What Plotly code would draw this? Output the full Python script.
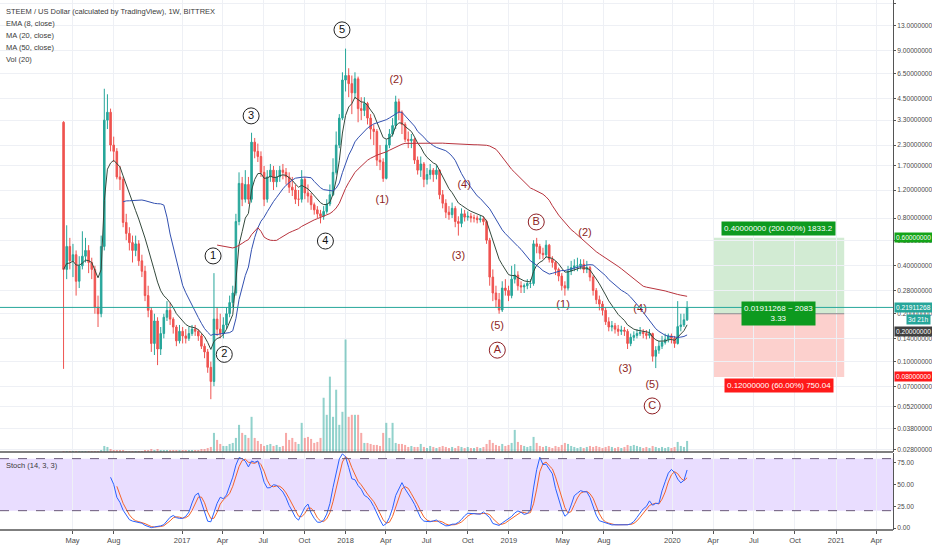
import numpy as np
import pandas as pd
import plotly.graph_objects as go

# weekly STEEM/USD candles (Bittrex)
start = "2016-04-11"
first_open = 3.2
closes = [
    0.38, 0.53, 0.43, 0.47, 0.32, 0.40, 0.46, 0.50, 0.42, 0.38,
    0.22, 0.20, 0.53, 3.3, 3.7, 2.3, 2.1, 1.45, 1.40, 0.75,
    0.64, 0.56, 0.50, 0.55, 0.43, 0.37, 0.26, 0.21, 0.13, 0.18,
    0.12, 0.15, 0.19, 0.21, 0.185, 0.165, 0.135, 0.155, 0.145, 0.14,
    0.15, 0.16, 0.155, 0.145, 0.125, 0.115, 0.092, 0.075, 0.185, 0.16,
    0.15, 0.17, 0.20, 0.235, 0.27, 0.76, 1.32, 1.05, 1.30, 1.05,
    2.4, 2.1, 1.95, 1.55, 1.05, 1.45, 1.6, 1.35, 1.45, 1.6,
    1.55, 1.45, 1.25, 1.2, 1.05, 1.05, 1.4, 1.15, 1.1, 0.97,
    0.9, 0.85, 0.82, 0.88, 0.98, 1.12, 1.55, 2.3, 3.4, 5.9,
    6.3, 5.6, 4.9, 6.0, 3.9, 3.8, 4.2, 3.4, 2.9, 2.8,
    1.85, 1.8, 1.42, 2.3, 2.7, 3.05, 4.3, 3.7, 3.1, 2.5,
    2.45, 2.5, 1.85, 1.6, 1.75, 1.4, 1.5, 1.6, 1.5, 1.6,
    1.12, 0.99, 0.87, 0.84, 0.92, 0.76, 0.74, 0.85, 0.81, 0.82,
    0.80, 0.80, 0.78, 0.79, 0.76, 0.58, 0.34, 0.27, 0.245, 0.211,
    0.29, 0.28, 0.26, 0.33, 0.35, 0.30, 0.295, 0.30, 0.31, 0.31,
    0.55, 0.53, 0.48, 0.47, 0.54, 0.44, 0.42, 0.38, 0.345, 0.30,
    0.29, 0.37, 0.39, 0.40, 0.40, 0.41, 0.38, 0.39, 0.34, 0.28,
    0.245, 0.23, 0.21, 0.178, 0.165, 0.168, 0.16, 0.155, 0.158, 0.155,
    0.13, 0.142, 0.146, 0.15, 0.153, 0.150, 0.146, 0.15, 0.108, 0.118,
    0.125, 0.132, 0.138, 0.145, 0.14, 0.13, 0.166, 0.17, 0.183, 0.21911268,
]
highs = [
    3.25, 0.72, 0.6, 0.55, 0.5, 0.46, 0.66, 0.6, 0.54, 0.45,
    0.40, 0.26, 0.62, 5.2, 4.8, 3.9, 2.6, 2.2, 1.7, 1.45,
    0.85, 0.7, 0.62, 0.62, 0.58, 0.47, 0.40, 0.30, 0.22, 0.20,
    0.19, 0.165, 0.20, 0.24, 0.235, 0.19, 0.17, 0.17, 0.165, 0.16,
    0.165, 0.17, 0.17, 0.16, 0.15, 0.13, 0.12, 0.10, 0.36, 0.22,
    0.2, 0.19, 0.22, 0.26, 0.30, 0.85, 1.55, 1.45, 1.6, 1.45,
    2.75, 2.55, 2.35, 2.1, 1.7, 1.6, 1.75, 1.7, 1.6, 1.7,
    1.75, 1.65, 1.55, 1.45, 1.3, 1.2, 1.6, 1.45, 1.3, 1.15,
    1.0, 0.95, 0.9, 0.95, 1.05, 1.3, 1.9, 2.8, 3.6, 6.6,
    9.3, 7.0, 6.3, 6.6, 6.2, 4.6, 4.6, 4.3, 3.6, 3.1,
    2.9, 2.3, 1.9, 2.5, 2.9, 3.4, 4.7, 4.5, 3.8, 3.2,
    2.8, 2.7, 2.55, 1.95, 1.95, 1.8, 1.65, 1.75, 1.65, 1.72,
    1.62, 1.2, 1.05, 0.95, 1.0, 0.95, 0.82, 0.92, 0.9, 0.88,
    0.86, 0.84, 0.83, 0.83, 0.82, 0.78, 0.6, 0.38, 0.3, 0.27,
    0.32, 0.33, 0.3, 0.4, 0.41, 0.37, 0.32, 0.31, 0.33, 0.33,
    0.58, 0.6, 0.55, 0.52, 0.58, 0.55, 0.46, 0.43, 0.39, 0.36,
    0.32, 0.4, 0.43, 0.44, 0.45, 0.44, 0.44, 0.43, 0.40, 0.35,
    0.29, 0.26, 0.24, 0.22, 0.19, 0.18, 0.175, 0.17, 0.168, 0.165,
    0.16, 0.15, 0.155, 0.16, 0.165, 0.16, 0.158, 0.16, 0.152, 0.125,
    0.135, 0.145, 0.15, 0.15, 0.15, 0.145, 0.24, 0.2, 0.2, 0.24,
]
lows = [
    0.09, 0.33, 0.38, 0.34, 0.26, 0.29, 0.38, 0.42, 0.36, 0.33,
    0.20, 0.165, 0.19, 0.5, 2.9, 2.1, 1.8, 1.4, 1.2, 0.7,
    0.58, 0.5, 0.42, 0.46, 0.40, 0.34, 0.24, 0.19, 0.115, 0.11,
    0.095, 0.11, 0.14, 0.18, 0.17, 0.15, 0.125, 0.13, 0.13, 0.13,
    0.135, 0.145, 0.145, 0.135, 0.12, 0.105, 0.085, 0.058, 0.07, 0.145,
    0.14, 0.14, 0.16, 0.19, 0.22, 0.26, 0.72, 0.95, 1.0, 0.98,
    1.0, 1.9, 1.8, 1.45, 0.95, 1.0, 1.35, 1.2, 1.25, 1.35,
    1.4, 1.3, 1.15, 1.1, 0.98, 0.95, 1.0, 1.05, 1.0, 0.9,
    0.84, 0.8, 0.74, 0.78, 0.85, 0.95, 1.1, 1.5, 2.2, 3.3,
    5.0, 4.6, 3.6, 4.5, 3.2, 3.3, 3.5, 3.1, 2.5, 2.3,
    1.7, 1.6, 1.35, 1.4, 2.2, 2.6, 2.9, 3.3, 2.7, 2.4,
    2.2, 2.2, 1.75, 1.5, 1.45, 1.25, 1.3, 1.4, 1.35, 1.4,
    1.05, 0.92, 0.8, 0.78, 0.8, 0.7, 0.62, 0.7, 0.76, 0.77,
    0.75, 0.75, 0.74, 0.75, 0.72, 0.55, 0.3, 0.24, 0.22, 0.20,
    0.205, 0.26, 0.24, 0.25, 0.31, 0.28, 0.27, 0.27, 0.285, 0.29,
    0.30, 0.48, 0.44, 0.44, 0.45, 0.42, 0.39, 0.35, 0.32, 0.28,
    0.26, 0.28, 0.35, 0.37, 0.37, 0.38, 0.36, 0.36, 0.32, 0.26,
    0.23, 0.21, 0.195, 0.17, 0.155, 0.155, 0.15, 0.145, 0.147, 0.145,
    0.12, 0.125, 0.135, 0.14, 0.145, 0.14, 0.138, 0.14, 0.10, 0.091,
    0.112, 0.12, 0.128, 0.132, 0.13, 0.122, 0.128, 0.155, 0.165, 0.18,
]
volumes = [
    1, 1, 1, 1, 1, 1, 1, 1, 1, 1,
    1, 1, 2, 6, 5, 3, 2, 2, 2, 2,
    1, 1, 1, 1, 1, 1, 2, 2, 3, 2,
    3, 2, 2, 2, 2, 2, 2, 2, 2, 2,
    2, 2, 2, 2, 3, 3, 4, 5, 19, 12,
    8, 6, 6, 8, 9, 14, 27, 19, 17, 14,
    35, 14, 11, 8, 6, 7, 8, 6, 7, 5,
    6, 19, 12, 14, 10, 8, 29, 14, 15, 13,
    9, 10, 14, 54, 37, 75, 35, 62, 27, 40,
    112, 35, 37, 37, 37, 19, 9, 9, 8, 7,
    7, 6, 19, 29, 14, 29, 9, 8, 8, 7,
    5, 6, 5, 5, 8, 5, 4, 6, 5, 4,
    5, 6, 5, 4, 5, 4, 6, 5, 4, 5,
    4, 4, 5, 4, 5, 8, 12, 9, 7, 6,
    8, 6, 7, 9, 22, 10, 7, 6, 5, 6,
    15, 9, 6, 5, 6, 5, 4, 6, 5, 7,
    9, 8, 6, 5, 4, 5, 4, 5, 6, 5,
    6, 5, 4, 5, 6, 5, 4, 5, 4, 5,
    7, 6, 7, 6, 5, 4, 5, 4, 6, 5,
    4, 5, 4, 5, 4, 5, 10, 6, 5, 11,
]

# long position tool
entry_price = 0.2
target_price = 0.6
stop_price = 0.08
box_start = "2020-04-03"
box_end = "2021-01-19"
box_mid = "2020-08-26"

# price axis ticks
price_ticks = [18, 13, 9, 6.5, 4.5, 3.3, 2.3, 1.7, 1.2, 0.8, 0.58, 0.4,
               0.28, 0.2, 0.14, 0.1, 0.07, 0.052, 0.038, 0.028]
date_ticks = ["2016-05-01", "2016-08-01", "2017-01-01", "2017-04-01", "2017-07-01",
              "2017-10-01", "2018-01-01", "2018-04-01", "2018-07-01", "2018-10-01",
              "2019-01-01", "2019-05-01", "2019-08-01", "2020-01-01", "2020-04-01",
              "2020-07-01", "2020-10-01", "2021-01-01", "2021-04-01"]
date_labels = ["May", "Aug", "2017", "Apr", "Jul", "Oct", "2018", "Apr", "Jul", "Oct",
               "2019", "May", "Aug", "2020", "Apr", "Jul", "Oct", "2021", "Apr"]

# elliott wave labels (date, price, text)
circled = [("2017-03-11", 0.462, "1"), ("2017-04-05", 0.111, "2"), ("2017-06-04", 3.51, "3"),
           ("2017-11-17", 0.573, "4"), ("2017-12-24", 12.2, "5"),
           ("2018-12-06", 0.118, "A"), ("2019-03-03", 0.755, "B"), ("2019-11-17", 0.0526, "C")]
parens = [("2018-04-24", 5.9, "(2)"), ("2018-03-24", 1.04, "(1)"), ("2018-09-23", 1.29, "(4)"),
          ("2018-09-10", 0.462, "(3)"), ("2018-12-06", 0.167, "(5)"), ("2019-06-20", 0.644, "(2)"),
          ("2019-05-02", 0.227, "(1)"), ("2019-10-21", 0.214, "(4)"), ("2019-09-18", 0.0898, "(3)"),
          ("2019-11-17", 0.0713, "(5)")]

UP, DOWN = "#26a69a", "#ef5350"
FONT = "Liberation Sans, Arial"
WAVE_RED = "#8e1f24"
AX_SIZE = 6.6

dates = pd.date_range(start, periods=len(closes), freq="7D")
opens = [first_open] + closes[:-1]
c = pd.Series(closes, index=dates)
h = pd.Series(highs, index=dates)
l = pd.Series(lows, index=dates)

ema8 = c.ewm(span=8, adjust=False).mean()
ma20 = c.rolling(20).mean()
ma50 = c.rolling(50).mean()
raw_k = 100 * (c - l.rolling(14).min()) / (h.rolling(14).max() - l.rolling(14).min())
stoch_k = raw_k.rolling(3).mean()
stoch_d = stoch_k.rolling(3).mean()

vol_colors = ["rgba(38,166,154,0.5)" if cl >= op else "rgba(239,83,80,0.5)"
              for op, cl in zip(opens, closes)]

fig = go.Figure()
fig.add_trace(go.Bar(x=dates, y=volumes, marker_color=vol_colors, marker_line_width=0,
                     width=4.5 * 86400000, xaxis="x", yaxis="y3"))
fig.add_trace(go.Candlestick(x=dates, open=opens, high=highs, low=lows, close=closes,
                             increasing=dict(line=dict(color=UP, width=1), fillcolor=UP),
                             decreasing=dict(line=dict(color=DOWN, width=1), fillcolor=DOWN),
                             whiskerwidth=0, xaxis="x", yaxis="y"))
fig.add_trace(go.Scatter(x=dates, y=ema8, mode="lines", line=dict(color="#34493c", width=1),
                         xaxis="x", yaxis="y"))
fig.add_trace(go.Scatter(x=dates, y=ma20, mode="lines", line=dict(color="#3250b0", width=1),
                         xaxis="x", yaxis="y"))
fig.add_trace(go.Scatter(x=dates, y=ma50, mode="lines", line=dict(color="#b8333d", width=1),
                         xaxis="x", yaxis="y"))

# wave labels
fig.add_trace(go.Scatter(x=[p[0] for p in circled], y=[p[1] for p in circled],
                         mode="markers+text", text=[p[2] for p in circled],
                         marker=dict(symbol="circle-open", size=16,
                                     color=["#222"] * 5 + [WAVE_RED] * 3, line=dict(width=1)),
                         textfont=dict(family=FONT, size=11, color=["#111"] * 5 + [WAVE_RED] * 3),
                         textposition="middle center", xaxis="x", yaxis="y"))
fig.add_trace(go.Scatter(x=[p[0] for p in parens], y=[p[1] for p in parens],
                         mode="text", text=[p[2] for p in parens],
                         textfont=dict(family=FONT, size=11, color=WAVE_RED),
                         xaxis="x", yaxis="y"))

# stochastic
fig.add_trace(go.Scatter(x=dates, y=stoch_d, mode="lines", line=dict(color="#f4642a", width=1),
                         xaxis="x2", yaxis="y2"))
fig.add_trace(go.Scatter(x=dates, y=stoch_k, mode="lines", line=dict(color="#2962ff", width=1),
                         xaxis="x2", yaxis="y2"))

shapes = [
    dict(type="rect", xref="paper", yref="y2", x0=0, x1=1, y0=20, y1=80, layer="below",
         fillcolor="rgba(153,102,255,0.22)", line_width=0),
    dict(type="line", xref="paper", yref="y2", x0=0, x1=1, y0=80, y1=80,
         line=dict(color="#6a5a7a", width=1, dash="dash")),
    dict(type="line", xref="paper", yref="y2", x0=0, x1=1, y0=20, y1=20,
         line=dict(color="#6a5a7a", width=1, dash="dash")),
    dict(type="rect", xref="x", yref="y", x0=box_start, x1=box_end, y0=entry_price,
         y1=target_price, fillcolor="rgba(76,175,80,0.25)", line_width=0, layer="below"),
    dict(type="rect", xref="x", yref="y", x0=box_start, x1=box_end, y0=stop_price,
         y1=entry_price, fillcolor="rgba(244,67,54,0.25)", line_width=0, layer="below"),
    dict(type="line", xref="x", yref="y", x0=box_start, x1=box_end, y0=entry_price,
         y1=entry_price, line=dict(color="#8a8a8a", width=1)),
    dict(type="line", xref="paper", yref="y", x0=0, x1=1, y0=closes[-1], y1=closes[-1],
         line=dict(color=UP, width=1)),
    dict(type="line", xref="paper", yref="paper", x0=0, x1=1, y0=0.1472, y1=0.1472,
         line=dict(color="#555", width=1.5)),
    dict(type="line", xref="paper", yref="paper", x0=0, x1=1, y0=0, y1=0,
         line=dict(color="#555", width=1.5)),
]

ann = []
legend_lines = ["STEEM / US Dollar (calculated by TradingView), 1W, BITTREX",
                "EMA (8, close)", "MA (20, close)", "MA (50, close)", "Vol (20)"]
for i, txt in enumerate(legend_lines):
    ann.append(dict(xref="paper", yref="paper", x=0.004, y=(530 - 12 - 12 * i) / 530,
                    xanchor="left", yanchor="middle", showarrow=False, text=txt,
                    font=dict(family=FONT, size=7.5, color="#3a3a3a")))
ann.append(dict(xref="paper", yref="paper", x=0.004, y=(530 - 465) / 530, xanchor="left",
                yanchor="middle", showarrow=False, text="Stoch (14, 3, 3)",
                font=dict(family=FONT, size=7.5, color="#3a3a3a")))


def axis_box(value, text, color, dy=0):
    return dict(xref="paper", yref="y", x=1.0, y=np.log10(value), xanchor="left",
                yanchor="middle", yshift=dy, xshift=1, showarrow=False, text=text,
                bgcolor=color, font=dict(family=FONT, size=AX_SIZE, color="white"),
                borderpad=1)


ann.append(axis_box(target_price, "0.60000000", "#13a418"))
ann.append(axis_box(closes[-1], "0.21911268", UP))
ann.append(dict(xref="paper", yref="y", x=1.0, y=np.log10(closes[-1]), xanchor="right",
                yanchor="middle", yshift=-12, xshift=38, showarrow=False, text="3d 21h",
                bgcolor=UP, font=dict(family=FONT, size=AX_SIZE, color="white"), borderpad=1))
ann.append(axis_box(entry_price, "0.20000000", "#404040", dy=-18))
ann.append(axis_box(stop_price, "0.08000000", "#ff1a1a"))

ann.append(dict(xref="x", yref="y", x=box_mid, y=np.log10(target_price), yshift=9,
                showarrow=False, text="0.40000000 (200.00%) 1833.2", bgcolor="#0d9a1f",
                font=dict(family=FONT, size=8, color="white"), borderpad=2))
ann.append(dict(xref="x", yref="y", x=box_mid, y=np.log10(entry_price), showarrow=False,
                text="0.01911268 ~ 2083<br>3.33", bgcolor="#0d9a1f",
                font=dict(family=FONT, size=8, color="white"), borderpad=2))
ann.append(dict(xref="x", yref="y", x=box_mid, y=np.log10(stop_price), yshift=-9,
                showarrow=False, text="0.12000000 (60.00%) 750.04", bgcolor="#ff1a1a",
                font=dict(family=FONT, size=8, color="white"), borderpad=2))


def fmt(v):
    return f"{v:.7f}" if v >= 10 else f"{v:.8f}"


x_range = ["2015-11-21", "2021-05-08"]
grid = "#eef0f5"
fig.update_layout(
    width=932, height=550,
    margin=dict(l=0, r=39, t=0, b=20),
    paper_bgcolor="white", plot_bgcolor="white",
    showlegend=False, hovermode=False,
    font=dict(family=FONT, size=8, color="#4a4a4a"),
    shapes=shapes, annotations=ann,
    xaxis=dict(domain=[0, 1], anchor="y", range=x_range, tickvals=date_ticks,
               showticklabels=False, showgrid=True, gridcolor=grid,
               rangeslider=dict(visible=False), zeroline=False),
    xaxis2=dict(domain=[0, 1], anchor="y2", range=x_range, tickvals=date_ticks,
                ticktext=date_labels, showgrid=True, gridcolor=grid, ticks="outside",
                ticklen=3, tickcolor="#555", zeroline=False,
                tickfont=dict(family=FONT, size=7.5, color="#4a4a4a")),
    yaxis=dict(domain=[0.1472, 1], anchor="x", type="log", side="right",
               range=[-1.5686, 1.2742], tickvals=price_ticks,
               ticktext=[fmt(v) for v in price_ticks], showgrid=True, gridcolor=grid,
               ticks="outside", ticklen=2, tickcolor="#555", showline=True,
               linecolor="#555", tickfont=dict(family=FONT, size=AX_SIZE, color="#4a4a4a")),
    yaxis3=dict(domain=[0.1472, 1], anchor="x", overlaying="y", range=[0, 450],
                visible=False),
    yaxis2=dict(domain=[0, 0.1453], anchor="x2", side="right", range=[-2.3, 86.5],
                tickvals=[0, 25, 50, 75], ticktext=["0.00", "25.00", "50.00", "75.00"],
                showgrid=False, ticks="outside", ticklen=2, tickcolor="#555",
                showline=True, linecolor="#555", zeroline=False,
                tickfont=dict(family=FONT, size=AX_SIZE, color="#4a4a4a")),
)

# drop the page's default body margin so the figure sits at the window's corner
fig.write_html("out.html", config={"displayModeBar": False},
               post_script="document.body.style.margin='0';document.body.style.overflow='hidden';")
